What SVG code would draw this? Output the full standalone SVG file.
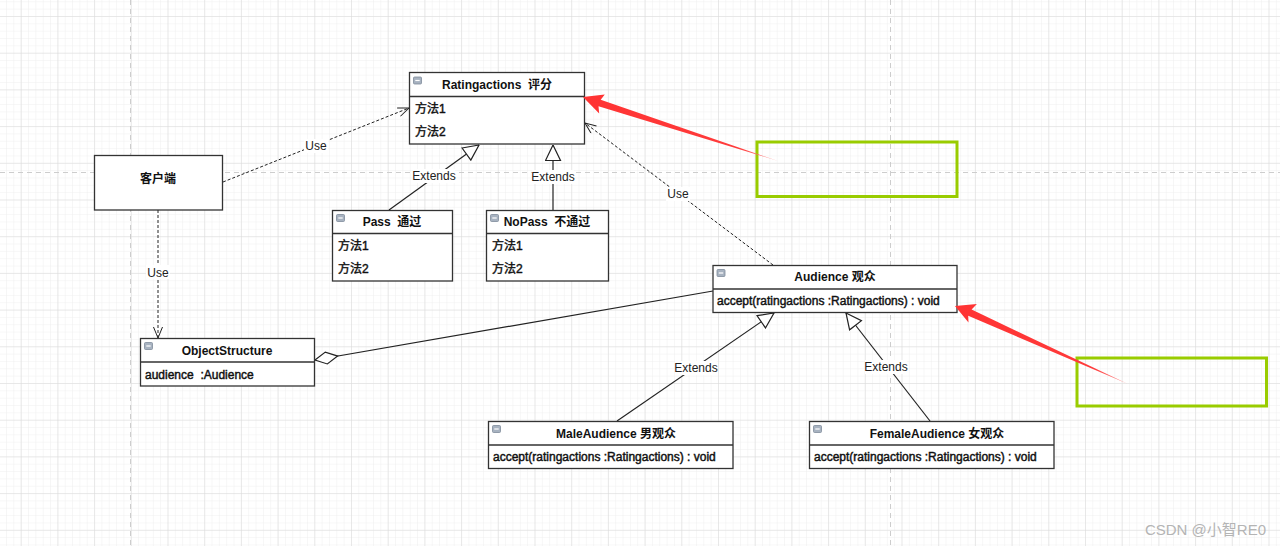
<svg xmlns="http://www.w3.org/2000/svg" width="1280" height="546" viewBox="0 0 1280 546">
<defs>
<pattern id="minor" patternUnits="userSpaceOnUse" x="20.7" y="16" width="7.34" height="7.34">
<path d="M0,0 H7.34 M0,0 V7.34" fill="none" stroke="#efefef" stroke-width="1"/>
</pattern>
<pattern id="major" patternUnits="userSpaceOnUse" x="20.7" y="16" width="36.7" height="36.7">
<path d="M0,0 H36.7 M0,0 V36.7" fill="none" stroke="#dadada" stroke-width="1"/>
</pattern>
<marker id="open" viewBox="0 0 12 10" refX="12" refY="5" markerWidth="12" markerHeight="10" markerUnits="userSpaceOnUse" orient="auto">
<path d="M1,0.5 L12,5 L1,9.5" fill="none" stroke="#222" stroke-width="1"/>
</marker>
<marker id="tri" viewBox="0 0 17 17" refX="16.5" refY="8.5" markerWidth="17" markerHeight="17" markerUnits="userSpaceOnUse" orient="auto">
<path d="M1,1 L16.5,8.5 L1,16 Z" fill="#fff" stroke="#222" stroke-width="1.2"/>
</marker>
<marker id="dia" viewBox="0 0 25 14" refX="0.5" refY="7" markerWidth="25" markerHeight="14" markerUnits="userSpaceOnUse" orient="auto">
<path d="M0.5,7 L12,1 L23.5,7 L12,13 Z" fill="#fff" stroke="#222" stroke-width="1.2"/>
</marker>
<linearGradient id="red1" gradientUnits="userSpaceOnUse" x1="583" y1="97" x2="778" y2="161">
<stop offset="0" stop-color="#ff3333"/><stop offset="0.8" stop-color="#ff3b3b"/><stop offset="1" stop-color="#ff9a9a"/>
</linearGradient>
<linearGradient id="red2" gradientUnits="userSpaceOnUse" x1="955" y1="306" x2="1128" y2="384">
<stop offset="0" stop-color="#ff3333"/><stop offset="0.8" stop-color="#ff3b3b"/><stop offset="1" stop-color="#ff9a9a"/>
</linearGradient>
<g id="icon">
<rect x="0" y="0" width="8" height="7" rx="1" fill="#a7b2c0" stroke="#7f8b9b" stroke-width="0.8"/>
<line x1="1.8" y1="3.5" x2="6.2" y2="3.5" stroke="#fff" stroke-width="1.2"/>
</g>
</defs>
<style>
text{font-family:"Liberation Sans","Noto Sans CJK SC",sans-serif;font-size:12px;fill:#111}
.hd{font-weight:bold;text-anchor:middle}
.mb{stroke:#111;stroke-width:0.45}
.lbl{fill:#222;text-anchor:middle}
.lbg{fill:#fff}
.box{fill:#fff;stroke:#333;stroke-width:1.3}
.div{stroke:#333;stroke-width:1.5}
.dash{fill:none;stroke:#222;stroke-width:1;stroke-dasharray:3,2}
.solid{fill:none;stroke:#222;stroke-width:1.2}
.page{stroke:#cdcdcd;stroke-width:1;stroke-dasharray:5,4}
.note{fill:none;stroke:#99cc00;stroke-width:3}
</style>
<g id="grid">
<rect width="1280" height="546" fill="#fff"/>
<rect width="1280" height="546" fill="url(#minor)"/>
<rect width="1280" height="546" fill="url(#major)"/>
<line class="page" x1="130.5" y1="0" x2="130.5" y2="546"/>
<line class="page" x1="890.5" y1="0" x2="890.5" y2="546"/>
<line class="page" x1="0" y1="172.5" x2="1280" y2="172.5"/>
</g>
<g id="connectors">
<path class="dash" d="M223,182 L409,108" marker-end="url(#open)"/>
<rect class="lbg" x="304" y="139" width="24" height="14"/>
<text class="lbl" x="316" y="150">Use</text>
<path class="dash" d="M773,265 L585,123" marker-end="url(#open)"/>
<rect class="lbg" x="666" y="187" width="24" height="14"/>
<text class="lbl" x="678" y="198">Use</text>
<path class="dash" d="M158,210 L158,338" marker-end="url(#open)"/>
<rect class="lbg" x="146" y="265" width="24" height="14"/>
<text class="lbl" x="158" y="276.5">Use</text>
<path class="solid" d="M389,210 L479,145" marker-end="url(#tri)"/>
<rect class="lbg" x="413" y="169" width="42" height="14"/>
<text class="lbl" x="434" y="180">Extends</text>
<path class="solid" d="M553,210 L553,145" marker-end="url(#tri)"/>
<rect class="lbg" x="532" y="170" width="42" height="14"/>
<text class="lbl" x="553" y="181">Extends</text>
<path class="solid" d="M617,421 L774,313" marker-end="url(#tri)"/>
<rect class="lbg" x="675" y="361" width="42" height="14"/>
<text class="lbl" x="696" y="372">Extends</text>
<path class="solid" d="M930,421 L846,313" marker-end="url(#tri)"/>
<rect class="lbg" x="865" y="360" width="42" height="14"/>
<text class="lbl" x="886" y="371">Extends</text>
<path class="solid" d="M315,360 L713,291" marker-start="url(#dia)"/>
</g>
<g id="ratingactions">
<rect class="box" x="409.5" y="72.5" width="175" height="71.5"/>
<line class="div" x1="409.5" y1="96.5" x2="584.5" y2="96.5"/>
<use href="#icon" x="413.5" y="77"/>
<text class="hd" x="497" y="89" xml:space="preserve">Ratingactions  评分</text>
<text class="mb" x="415" y="112.5">方法1</text>
<text class="mb" x="415" y="136">方法2</text>
</g>
<g id="pass">
<rect class="box" x="332.5" y="210.5" width="120" height="70.5"/>
<line class="div" x1="332.5" y1="233.5" x2="452.5" y2="233.5"/>
<use href="#icon" x="336.5" y="214.5"/>
<text class="hd" x="392" y="226" xml:space="preserve">Pass  通过</text>
<text class="mb" x="338" y="250">方法1</text>
<text class="mb" x="338" y="273">方法2</text>
</g>
<g id="nopass">
<rect class="box" x="486.5" y="210.5" width="122" height="70.5"/>
<line class="div" x1="486.5" y1="233.5" x2="608.5" y2="233.5"/>
<use href="#icon" x="490.5" y="214.5"/>
<text class="hd" x="547" y="226" xml:space="preserve">NoPass  不通过</text>
<text class="mb" x="492" y="250">方法1</text>
<text class="mb" x="492" y="273">方法2</text>
</g>
<g id="client">
<rect class="box" x="94.5" y="155.5" width="128" height="54.5"/>
<text class="hd" x="158" y="183">客户端</text>
</g>
<g id="objectstructure">
<rect class="box" x="140.5" y="338.5" width="174" height="47.5"/>
<line class="div" x1="140.5" y1="362" x2="314.5" y2="362"/>
<use href="#icon" x="144.5" y="342.5"/>
<text class="hd" x="227" y="354.5">ObjectStructure</text>
<text class="mb" x="145" y="378.5" xml:space="preserve">audience  :Audience</text>
</g>
<g id="audience">
<rect class="box" x="713" y="265.5" width="244" height="47"/>
<line class="div" x1="713" y1="289" x2="957" y2="289"/>
<use href="#icon" x="717" y="269.5"/>
<text class="hd" x="835" y="281">Audience 观众</text>
<text class="mb" x="717" y="305">accept(ratingactions :Ratingactions) : void</text>
</g>
<g id="maleaudience">
<rect class="box" x="488.5" y="421.5" width="244.5" height="47"/>
<line class="div" x1="488.5" y1="445" x2="733" y2="445"/>
<use href="#icon" x="492.5" y="425.5"/>
<text class="hd" x="616" y="437.5">MaleAudience 男观众</text>
<text class="mb" x="493" y="461">accept(ratingactions :Ratingactions) : void</text>
</g>
<g id="femaleaudience">
<rect class="box" x="809.5" y="421.5" width="244.5" height="47"/>
<line class="div" x1="809.5" y1="445" x2="1054" y2="445"/>
<use href="#icon" x="813.5" y="425.5"/>
<text class="hd" x="937" y="437.5">FemaleAudience 女观众</text>
<text class="mb" x="814" y="461">accept(ratingactions :Ratingactions) : void</text>
</g>
<g id="annotations">
<rect class="note" x="757" y="142" width="200" height="54.5"/>
<rect class="note" x="1077" y="358" width="189.5" height="48"/>
<polygon fill="url(#red1)" points="583,97 604.8,94.6 600.7,99.8 778,161 598.5,106.3 599.2,113.5"/>
<polygon fill="url(#red2)" points="955,306 976.9,304 971.6,309.6 1128,384 968.2,315.8 968.5,322.4"/>
</g>
<text x="1266" y="535" style="font-size:15px;fill:#b4b4b4;text-anchor:end">CSDN @小智RE0</text>
</svg>
